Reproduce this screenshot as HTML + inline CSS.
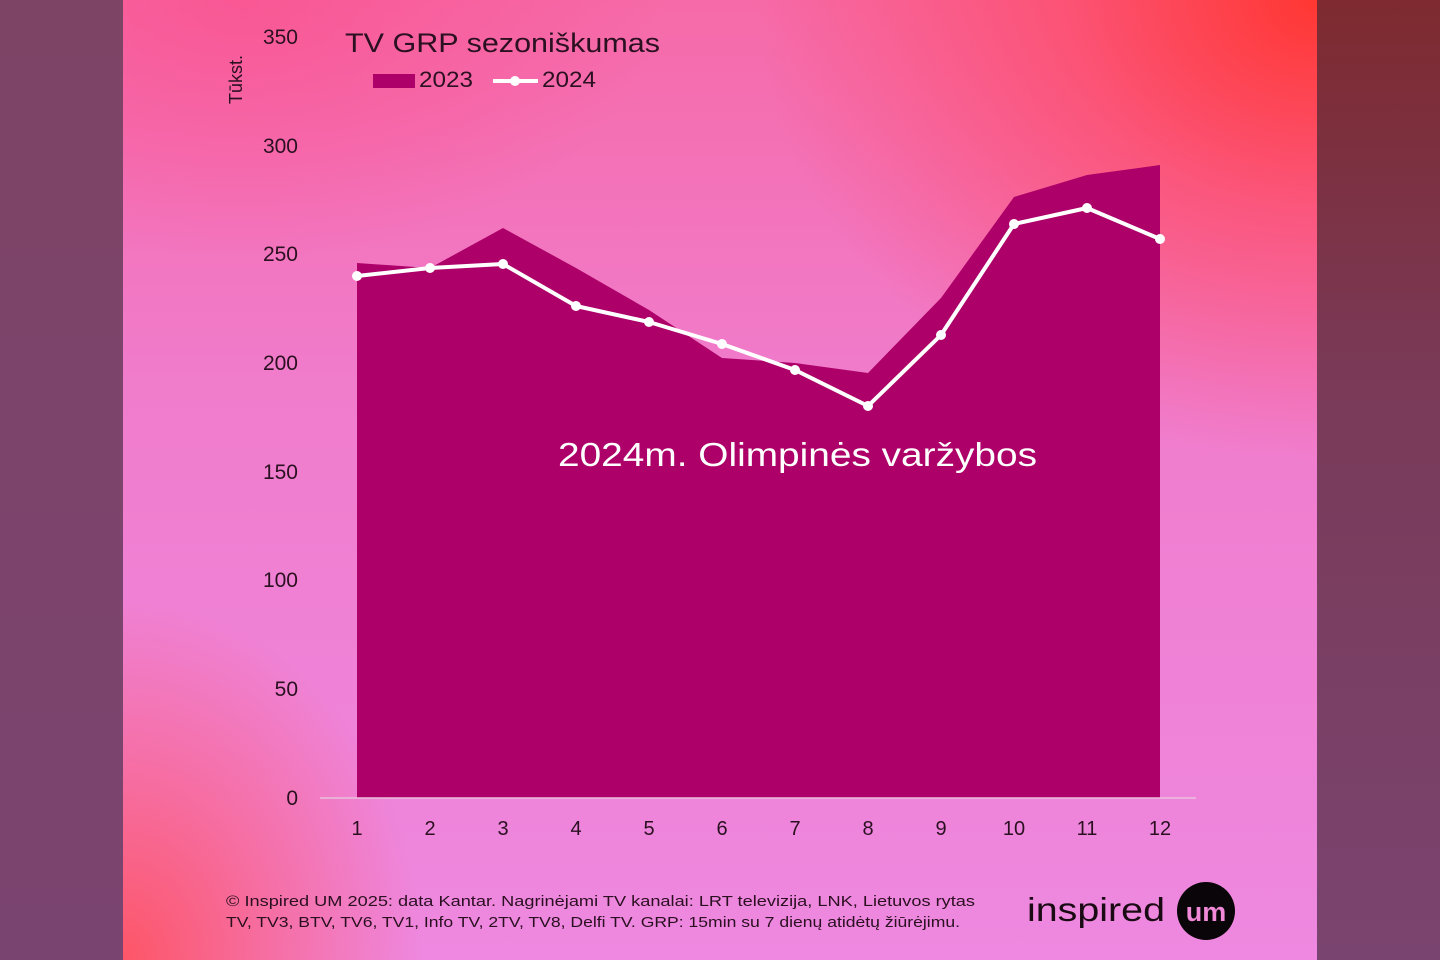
<!DOCTYPE html>
<html><head><meta charset="utf-8"><style>
html,body{margin:0;padding:0;width:1440px;height:960px;overflow:hidden;background:#7c4468;}
#left{position:absolute;left:0;top:0;width:123px;height:960px;background:linear-gradient(180deg,#7e4466,#7a4470);}
#right{position:absolute;left:1317px;top:0;width:123px;height:960px;background:linear-gradient(180deg,#7e2a30 0%,#7a3a58 40%,#7a4470 100%);}
#panel{position:absolute;left:123px;top:0;width:1194px;height:960px;
background:
radial-gradient(ellipse 560px 460px at 100% 0%, rgba(255,55,50,1) 0%, rgba(255,70,90,0.65) 45%, rgba(255,80,140,0) 100%),
radial-gradient(ellipse 300px 360px at 0% 100%, rgba(255,80,90,0.9) 0%, rgba(255,90,140,0) 100%),
radial-gradient(ellipse 420px 260px at 10% 0%, rgba(250,80,140,0.7) 0%, rgba(245,90,150,0) 100%),
linear-gradient(180deg,#f66aa8 0%,#f07ccc 40%,#ee88e0 100%);}
svg{position:absolute;left:0;top:0;}
text{font-family:"Liberation Sans",sans-serif;}
</style></head><body>
<div id="left"></div><div id="right"></div><div id="panel"></div>
<svg width="1440" height="960" viewBox="0 0 1440 960">
<g font-size="21" fill="#2a1020" text-anchor="end">
<text x="298" y="44">350</text>
<text x="298" y="153">300</text>
<text x="298" y="261">250</text>
<text x="298" y="370">200</text>
<text x="298" y="479">150</text>
<text x="298" y="587">100</text>
<text x="298" y="696">50</text>
<text x="298" y="805">0</text>
</g>
<text transform="translate(242,104) rotate(-90)" font-size="18" fill="#2a1020">Tūkst.</text>
<text x="345" y="52" font-size="27" fill="#2a1020" textLength="315" lengthAdjust="spacingAndGlyphs">TV GRP sezoniškumas</text>
<rect x="373" y="74" width="42" height="14" fill="#ad0068"/>
<text x="419" y="87" font-size="22" fill="#2a1020" textLength="54" lengthAdjust="spacingAndGlyphs">2023</text>
<line x1="493" y1="81" x2="538" y2="81" stroke="#fff" stroke-width="4"/>
<circle cx="515" cy="81" r="5" fill="#fff"/>
<text x="542" y="87" font-size="22" fill="#2a1020" textLength="54" lengthAdjust="spacingAndGlyphs">2024</text>
<polygon fill="#ad0068" points="357,798 357,263 430,268 503,228 576,268 649,310 722,358 795,363 868,373 941,298 1014,197 1087,175 1160,165 1160,798"/>
<line x1="320" y1="798" x2="1196" y2="798" stroke="#e8c0dc" stroke-width="1.5"/>
<polyline fill="none" stroke="#fff" stroke-width="4" stroke-linejoin="round" points="357,276 430,268 503,264 576,306 649,322 722,344 795,370 868,406 941,335 1014,224 1087,208 1160,239"/>
<g fill="#fff">
<circle cx="357" cy="276" r="5"/><circle cx="430" cy="268" r="5"/><circle cx="503" cy="264" r="5"/><circle cx="576" cy="306" r="5"/><circle cx="649" cy="322" r="5"/><circle cx="722" cy="344" r="5"/><circle cx="795" cy="370" r="5"/><circle cx="868" cy="406" r="5"/><circle cx="941" cy="335" r="5"/><circle cx="1014" cy="224" r="5"/><circle cx="1087" cy="208" r="5"/><circle cx="1160" cy="239" r="5"/>
</g>
<text x="558" y="466" font-size="33" fill="#fff" textLength="479" lengthAdjust="spacingAndGlyphs">2024m. Olimpinės varžybos</text>
<g font-size="20" fill="#2a1020" text-anchor="middle">
<text x="357" y="835">1</text><text x="430" y="835">2</text><text x="503" y="835">3</text><text x="576" y="835">4</text><text x="649" y="835">5</text><text x="722" y="835">6</text><text x="795" y="835">7</text><text x="868" y="835">8</text><text x="941" y="835">9</text><text x="1014" y="835">10</text><text x="1087" y="835">11</text><text x="1160" y="835">12</text>
</g>
<text x="226" y="906" font-size="15" fill="#2a1020" textLength="749" lengthAdjust="spacingAndGlyphs">© Inspired UM 2025: data Kantar.  Nagrinėjami TV kanalai: LRT televizija, LNK, Lietuvos rytas</text>
<text x="226" y="927" font-size="15" fill="#2a1020" textLength="734" lengthAdjust="spacingAndGlyphs">TV, TV3, BTV, TV6, TV1, Info TV, 2TV, TV8, Delfi TV. GRP: 15min su 7 dienų atidėtų žiūrėjimu.</text>
<text x="1027" y="921" font-size="33" fill="#1a0a14" textLength="138" lengthAdjust="spacingAndGlyphs">inspired</text>
<circle cx="1206" cy="911" r="29" fill="#0a0508"/>
<text x="1206" y="921" font-size="27" font-weight="bold" fill="#f08ad8" text-anchor="middle">um</text>
</svg>
</body></html>
